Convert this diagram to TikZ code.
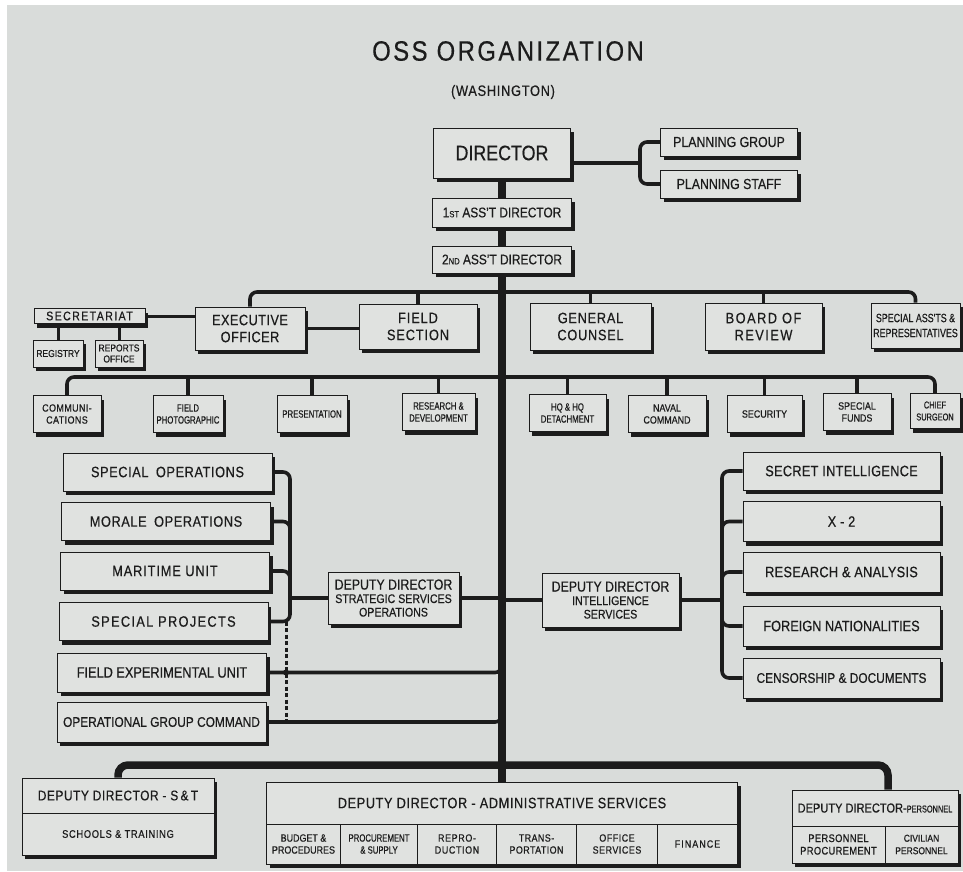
\documentclass[tikz,border=0pt]{standalone}
\usepackage{fontspec}
\setmainfont{Liberation Sans}[FakeStretch=0.85, FakeBold=0.5]
\newfontfamily\narrowsf{Liberation Sans}[FakeStretch=0.74, FakeBold=0.5]
\usetikzlibrary{shadows, calc}

\definecolor{ink}{HTML}{1C1C1C}
\definecolor{paper}{HTML}{D9DCDA}
\definecolor{card}{HTML}{E0E2E0}

% size and letter spacing
\newcommand{\fsz}[2]{\fontsize{#1}{#2}\selectfont}
\newcommand{\letsp}[1]{\addfontfeature{LetterSpace=#1}}

\begin{document}
\begin{tikzpicture}[x=1pt, y=-1pt,
    every node/.style={text=ink},
    box/.style={draw=ink, line width=0.8pt, fill=card, inner sep=0pt, align=center,
      drop shadow={shadow xshift=3pt, shadow yshift=-4pt, fill=ink, opacity=1}},
    cell/.style={draw=ink, line width=0.8pt, inner sep=0pt, align=center},
    office/.style={minimum height=37, font=\fsz{10.5}{12}},
    branch/.style={minimum width=209, minimum height=38, font=\fsz{15}{17}\letsp{4}},
    intel/.style={minimum width=197, minimum height=40, font=\fsz{15}{17}\letsp{2}},
    link/.style={draw=ink, line width=3.6pt, rounded corners=7pt},
    trunk/.style={draw=ink, line width=7.5pt},
    dotted link/.style={draw=ink, line width=3pt, dash pattern=on 4pt off 2.5pt}]

  % Paper
  \useasboundingbox (0,0) rectangle (963,871);
  \fill[paper] (0,0) rectangle (963,871);
  \fill[white] (0,0) rectangle (963,5);
  \fill[white] (0,0) rectangle (7,871);

  % Bar levels and bracket lines
  \coordinate (barA) at (0,292);
  \coordinate (barB) at (0,377);
  \coordinate (barC) at (0,765);
  \coordinate (trk) at (502,0);
  \coordinate (plj) at (640,163);
  \coordinate (ssb) at (290,0);
  \coordinate (ssd) at (286,0);
  \coordinate (isb) at (722,0);

  % Title
  \node[font=\fsz{28}{30}\letsp{9}] (title) at (508,51) {OSS ORGANIZATION};
  \node[font=\fsz{15}{16}\letsp{5}] (subtitle) at (503,92) {(WASHINGTON)};

  % Director and planning
  \node[box, minimum width=137, minimum height=50, font=\fsz{21}{22}] (dir) at (502,153) {DIRECTOR};
  \node[box, minimum width=137, minimum height=28, font=\fsz{14.5}{16}] (pg) at (729,142) {PLANNING GROUP};
  \node[box, minimum width=137, minimum height=28, font=\fsz{14.5}{16}] (pst) at (729,184) {PLANNING STAFF};
  \node[box, minimum width=139, minimum height=29, font=\fsz{14}{16}] (as1) at (502,212.5) {1{\fsz{9}{9}ST} ASS'T DIRECTOR};
  \node[box, minimum width=139, minimum height=27, font=\fsz{14}{16}] (as2) at (502,259.5) {2{\fsz{9}{9}ND} ASS'T DIRECTOR};

  % Staff row
  \node[box, minimum width=111, minimum height=15, font=\fsz{12.5}{13}\letsp{11}] (sec) at (89.5,316) {SECRETARIAT};
  \node[box, minimum width=50, minimum height=27, font=\fsz{10}{11}] (reg) at (58,353.5) {REGISTRY};
  \node[box, minimum width=48, minimum height=27, font=\fsz{10}{11}] (rep) at (119,353.5) {REPORTS\\OFFICE};
  \node[box, minimum width=110, minimum height=43, font=\fsz{15}{17}\letsp{3}] (exo) at (250,328.5) {EXECUTIVE\\OFFICER};
  \node[box, minimum width=118, minimum height=45, font=\fsz{15}{17}\letsp{6}] (fsec) at (418,326.5) {FIELD\\SECTION};
  \node[box, minimum width=121, minimum height=47, font=\fsz{15}{17}\letsp{5}] (gc) at (590.5,326.5) {GENERAL\\COUNSEL};
  \node[box, minimum width=117, minimum height=47, font=\fsz{15}{17}\letsp{10}] (bor) at (763.5,326.5) {BOARD OF\\REVIEW};
  \node[box, minimum width=89, minimum height=45, font=\narrowsf\fsz{12}{15}] (sar) at (915.5,325.5) {SPECIAL ASS'TS \&\\REPRESENTATIVES};

  % Offices row
  \node[box, office, minimum width=68, font=\fsz{10.5}{12}\letsp{4}] (com) at (67,414) {COMMUNI-\\CATIONS};
  \node[box, office, minimum width=70, font=\narrowsf\fsz{10.5}{12}] (fph) at (188,414) {FIELD\\PHOTOGRAPHIC};
  \node[box, office, minimum width=70, font=\narrowsf\fsz{10.5}{12}] (pre) at (312,414) {PRESENTATION};
  \node[box, office, minimum width=73, font=\narrowsf\fsz{10.5}{12}] (rnd) at (438.5,412) {RESEARCH \&\\DEVELOPMENT};
  \node[box, office, minimum width=77, font=\narrowsf\fsz{10.5}{12}] (hq) at (567.5,413) {HQ \& HQ\\DETACHMENT};
  \node[box, office, minimum width=78] (nav) at (667,414) {NAVAL\\COMMAND};
  \node[box, office, minimum width=75] (scy) at (764.5,414) {SECURITY};
  \node[box, office, minimum width=68] (sfu) at (857,412) {SPECIAL\\FUNDS};
  \node[box, office, minimum width=50, minimum height=35, font=\narrowsf\fsz{10}{12}] (chs) at (935,411) {CHIEF\\SURGEON};

  % Strategic services operations
  \node[box, branch] (spo) at (167.5,472) {SPECIAL\enspace OPERATIONS};
  \node[box, branch] (mop) at (166,521.5) {MORALE\enspace OPERATIONS};
  \node[box, branch, font=\fsz{15}{17}\letsp{6}] (mar) at (165,571) {MARITIME UNIT};
  \node[box, branch, font=\fsz{15}{17}\letsp{9}] (spr) at (163.5,621.5) {SPECIAL PROJECTS};
  \node[box, branch, minimum height=39, font=\fsz{15}{17}] (feu) at (162,672.5) {FIELD EXPERIMENTAL UNIT};
  \node[box, branch, minimum height=40, font=\fsz{14}{16}] (ogc) at (161.5,722) {OPERATIONAL GROUP COMMAND};
  \node[box, minimum width=131, minimum height=52, font=\fsz{12.5}{13.5}] (ddsso) at (393.5,598)
    {{\fsz{14.5}{15}DEPUTY DIRECTOR}\\STRATEGIC SERVICES\\OPERATIONS};

  % Intelligence services
  \node[box, minimum width=137, minimum height=54, font=\fsz{12.5}{13.5}] (ddis) at (610.5,600)
    {{\fsz{14.5}{15}DEPUTY DIRECTOR}\\INTELLIGENCE\\SERVICES};
  \node[box, intel, minimum height=38] (si) at (841.5,471) {SECRET INTELLIGENCE};
  \node[box, intel] (xtwo) at (841.5,521.5) {X - 2};
  \node[box, intel] (rsa) at (841.5,572) {RESEARCH \& ANALYSIS};
  \node[box, intel, font=\fsz{15}{17}] (fnat) at (841.5,626) {FOREIGN NATIONALITIES};
  \node[box, intel, font=\fsz{14}{16}] (cnd) at (841.5,678) {CENSORSHIP \& DOCUMENTS};

  % Schools and training
  \node[box, minimum width=192, minimum height=77] (ddst) at (118,816.5) {};
  \node[font=\fsz{14}{16}\letsp{4}] (ddsth) at (118,795.5) {DEPUTY DIRECTOR - S\,\&\,T};
  \node[cell, minimum width=192, minimum height=42, font=\fsz{11}{12}\letsp{6}] (snt) at (118,834) {SCHOOLS \& TRAINING};

  % Administrative services
  \node[box, minimum width=471, minimum height=82] (ddadm) at (502,823) {};
  \node[font=\fsz{15}{17}\letsp{4}] (ddadmh) at (502,803) {DEPUTY DIRECTOR - ADMINISTRATIVE SERVICES};
  \node[cell, minimum width=74, minimum height=40, font=\fsz{10.5}{12}] (bud) at (303.5,844) {BUDGET \&\\PROCEDURES};
  \node[cell, minimum width=77, minimum height=40, font=\narrowsf\fsz{10.5}{12}] (prc) at (379,844) {PROCUREMENT\\\& SUPPLY};
  \node[cell, minimum width=79, minimum height=40, font=\fsz{10.5}{12}\letsp{6}] (rpd) at (457,844) {REPRO-\\DUCTION};
  \node[cell, minimum width=80, minimum height=40, font=\fsz{10.5}{12}\letsp{4}] (trn) at (536.5,844) {TRANS-\\PORTATION};
  \node[cell, minimum width=81, minimum height=40, font=\fsz{10.5}{12}\letsp{5}] (ofs) at (617,844) {OFFICE\\SERVICES};
  \node[cell, minimum width=80, minimum height=40, font=\fsz{10.5}{12}\letsp{10}] (fin) at (697.5,844) {FINANCE};

  % Personnel
  \node[box, minimum width=166, minimum height=73] (ddper) at (875,826.5) {};
  \node[font=\fsz{13}{15}] (ddperh) at (875,808) {DEPUTY DIRECTOR-{\narrowsf\fsz{10}{12}PERSONNEL}};
  \node[cell, minimum width=93, minimum height=37, font=\fsz{11}{12.5}\letsp{3}] (ppr) at (838.5,844.5) {PERSONNEL\\PROCUREMENT};
  \node[cell, minimum width=73, minimum height=37, font=\fsz{10}{12.5}] (cvp) at (921.5,844.5) {CIVILIAN\\PERSONNEL};

  % Main line
  \draw[trunk] (dir.south) -- (as1.north) (as1.south) -- (as2.north) (as2.south) -- (ddadm.north);

  % Planning links
  \draw[link] (dir.east |- plj) -- (plj);
  \draw[link] (pg.west) -| (plj) |- (pst.west);

  % Staff bar
  \draw[link] (exo.north) |- (sar.north |- barA) -- (sar.north);
  \draw[link] (fsec.north) -- (fsec.north |- barA);
  \draw[link] (gc.north) -- (gc.north |- barA);
  \draw[link] (bor.north) -- (bor.north |- barA);
  \draw[link, line width=3pt] (sec.east) -- (sec.east -| exo.west);
  \draw[link, line width=3pt] (exo.east) -- (exo.east -| fsec.west);
  \draw[link, line width=3pt] (sec.south -| reg.north) -- (reg.north);
  \draw[link, line width=3pt] (sec.south -| rep.north) -- (rep.north);

  % Offices bar
  \draw[link] (com.north) |- (chs.north |- barB) -- (chs.north);
  \draw[link] (fph.north) -- (fph.north |- barB);
  \draw[link] (pre.north) -- (pre.north |- barB);
  \draw[link] (rnd.north) -- (rnd.north |- barB);
  \draw[link] (hq.north) -- (hq.north |- barB);
  \draw[link] (nav.north) -- (nav.north |- barB);
  \draw[link] (scy.north) -- (scy.north |- barB);
  \draw[link] (sfu.north) -- (sfu.north |- barB);

  % SSO bracket
  \draw[link] (spo.east) -| (spr.east -| ssb) -- (spr.east);
  \draw[link] (mop.east) -| ($(mop.east -| ssb)+(0,9)$);
  \draw[link] (mar.east) -| ($(mar.east -| ssb)+(0,9)$);
  \draw[link] (ddsso.west) -- (ddsso.west -| ssb);
  \draw[dotted link] (spr.east -| ssd) -- (ogc.east -| ssd);
  \fill[ink] (feu.east -| ssd) circle (3);
  \draw[link] (feu.east) -| ($(feu.east -| trk)+(0,-9)$);
  \draw[link] (ogc.east) -| ($(ogc.east -| trk)+(0,-9)$);
  \draw[link] (ddsso.east) -- (ddsso.east -| trk);

  % Intelligence bracket
  \draw[link] (si.west) -| (cnd.west -| isb) -- (cnd.west);
  \draw[link] (xtwo.west) -| ($(xtwo.west -| isb)+(0,9)$);
  \draw[link] (rsa.west) -| ($(rsa.west -| isb)+(0,9)$);
  \draw[link] (fnat.west) -| ($(fnat.west -| isb)+(0,-9)$);
  \draw[link] (ddis.east) -- (ddis.east -| isb);
  \draw[link] (ddis.west -| trk) -- (ddis.west);

  % Deputies bar
  \draw[trunk, rounded corners=10pt] (ddst.north) |- ([xshift=13pt]ddper.north |- barC) -- ([xshift=13pt]ddper.north);

\end{tikzpicture}
\end{document}
